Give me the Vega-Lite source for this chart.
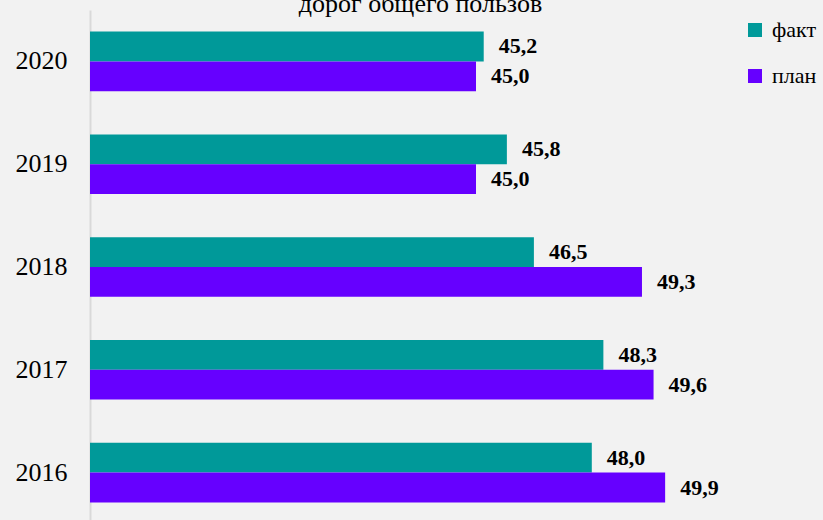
{
  "$schema": "https://vega.github.io/schema/vega-lite/v6.json",
  "width": 579,
  "height": 514,
  "autosize": {"type": "none"},
  "padding": {"left": 90, "top": 10, "right": 154, "bottom": 0},
  "background": "#f2f2f2",
  "title": {
    "text": "дорог общего пользов",
    "font": "Liberation Serif",
    "fontSize": 26,
    "fontWeight": "normal",
    "color": "#000000",
    "anchor": "middle",
    "offset": -7,
    "dx": 41
  },
  "data": {
    "values": [
      {"year": "2020", "series": "факт", "value": 45.2, "label": "45,2"},
      {"year": "2020", "series": "план", "value": 45.0, "label": "45,0"},
      {"year": "2019", "series": "факт", "value": 45.8, "label": "45,8"},
      {"year": "2019", "series": "план", "value": 45.0, "label": "45,0"},
      {"year": "2018", "series": "факт", "value": 46.5, "label": "46,5"},
      {"year": "2018", "series": "план", "value": 49.3, "label": "49,3"},
      {"year": "2017", "series": "факт", "value": 48.3, "label": "48,3"},
      {"year": "2017", "series": "план", "value": 49.6, "label": "49,6"},
      {"year": "2016", "series": "факт", "value": 48.0, "label": "48,0"},
      {"year": "2016", "series": "план", "value": 49.9, "label": "49,9"}
    ]
  },
  "encoding": {
    "y": {
      "field": "year",
      "type": "nominal",
      "sort": "descending",
      "scale": {"paddingInner": 0.42, "paddingOuter": 0.21},
      "axis": {
        "title": null,
        "domainColor": "#d9d9d9",
        "domainWidth": 2,
        "ticks": false,
        "grid": false,
        "labelFont": "Liberation Serif",
        "labelFontSize": 26,
        "labelColor": "#000000",
        "labelPadding": 23
      }
    },
    "yOffset": {"field": "series", "type": "nominal", "sort": ["факт", "план"]},
    "x": {
      "field": "value",
      "type": "quantitative",
      "scale": {"domain": [35, 50], "zero": false},
      "axis": null
    }
  },
  "layer": [
    {
      "mark": {"type": "bar", "clip": true},
      "encoding": {
        "color": {
          "field": "series",
          "type": "nominal",
          "sort": ["факт", "план"],
          "scale": {"domain": ["факт", "план"], "range": ["#009999", "#6600ff"]},
          "legend": {
            "title": null,
            "orient": "none",
            "legendX": 654,
            "legendY": 9,
            "symbolType": "square",
            "symbolSize": 196,
            "symbolStrokeWidth": 0,
            "labelFont": "Liberation Serif",
            "labelFontSize": 22,
            "labelColor": "#000000",
            "labelOffset": 6,
            "rowPadding": 24
          }
        }
      }
    },
    {
      "mark": {
        "type": "text",
        "align": "left",
        "baseline": "middle",
        "dx": 15,
        "font": "Liberation Serif",
        "fontSize": 22,
        "fontWeight": "bold",
        "color": "#000000"
      },
      "encoding": {"text": {"field": "label"}}
    }
  ],
  "config": {"view": {"stroke": null}}
}
